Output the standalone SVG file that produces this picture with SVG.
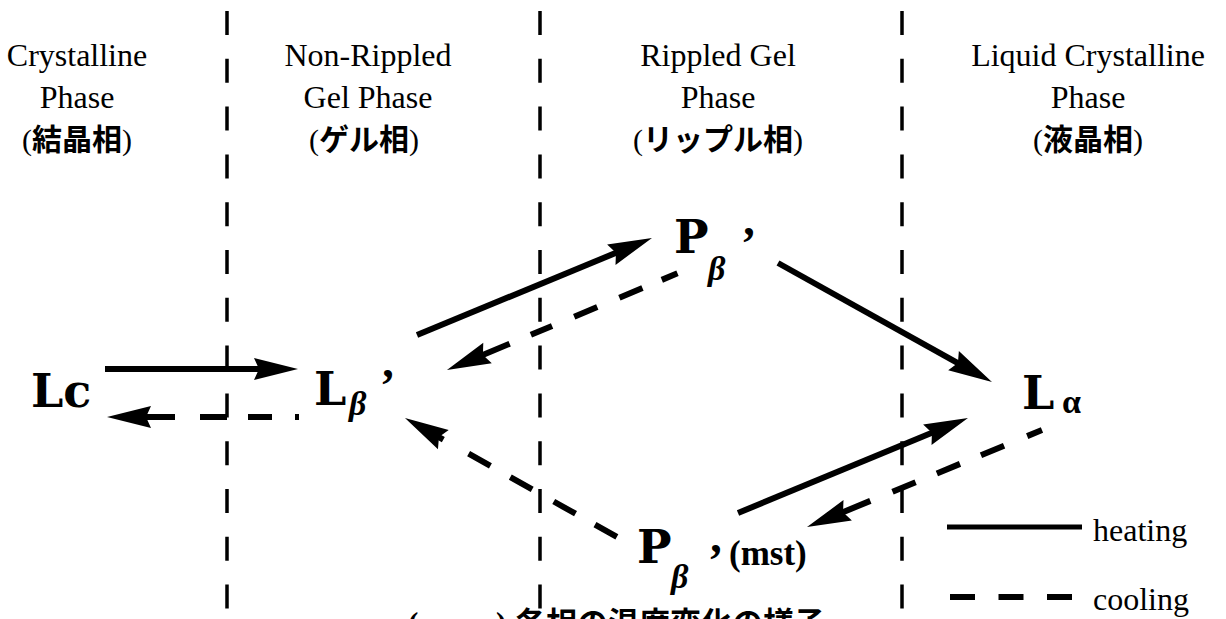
<svg xmlns="http://www.w3.org/2000/svg" width="1226" height="619" viewBox="0 0 1226 619">
<style>
.hdr{font-family:"Liberation Serif","Times New Roman",serif;font-size:32px;fill:#000;text-anchor:middle}
.jp{font-family:"Liberation Serif","Noto Sans CJK JP",sans-serif;font-size:30px;fill:#000;text-anchor:middle}
.kj{font-family:"Noto Sans CJK JP",sans-serif;font-weight:bold}
.big{font-family:"DejaVu Serif",serif;font-weight:bold;font-size:46px;fill:#000}
.sub{font-family:"Liberation Serif",serif;font-weight:bold;font-style:italic;font-size:34px;fill:#000}
.prime{font-family:"Liberation Serif",serif;font-weight:bold;font-size:46px;fill:#000}
.mst{font-family:"Liberation Serif",serif;font-weight:bold;font-size:35px;fill:#000}
.leg{font-family:"Liberation Serif",serif;font-size:32px;fill:#000}
.cap{font-family:"Liberation Serif","Noto Sans CJK JP",sans-serif;font-size:31px;font-weight:bold;fill:#000}
.sep{stroke:#000;stroke-width:3.5;stroke-dasharray:24 23.8;fill:none}
.heat{stroke:#000;stroke-width:6;fill:none;marker-end:url(#ah)}
.cool{stroke:#000;stroke-width:6;fill:none;marker-start:url(#ahs)}
</style>
<defs>
<marker id="ah" markerUnits="userSpaceOnUse" markerWidth="46" markerHeight="24" refX="24" refY="11" orient="auto" overflow="visible">
<path d="M0,0 L44,11 L0,22 L5,11 z" fill="#000"/>
</marker>
<marker id="ahs" markerUnits="userSpaceOnUse" markerWidth="46" markerHeight="24" refX="24" refY="11" orient="auto-start-reverse" overflow="visible">
<path d="M0,0 L44,11 L0,22 L5,11 z" fill="#000"/>
</marker>
</defs>
<rect width="1226" height="619" fill="#fff"/>

<g id="separators">
<line class="sep" x1="227" y1="11" x2="227" y2="619"/>
<line class="sep" x1="540" y1="11" x2="540" y2="619"/>
<line class="sep" x1="902" y1="11" x2="902" y2="619"/>
</g>

<g id="header-crystalline">
<text class="hdr" x="77" y="66">Crystalline</text>
<text class="hdr" x="77" y="108">Phase</text>
<text class="jp" x="77" y="150">(<tspan class="kj">結晶相</tspan>)</text>
</g>
<g id="header-gel">
<text class="hdr" x="368" y="66">Non-Rippled</text>
<text class="hdr" x="368" y="108">Gel Phase</text>
<text class="jp" x="364" y="150">(<tspan class="kj">ゲル相</tspan>)</text>
</g>
<g id="header-ripple">
<text class="hdr" x="718" y="66">Rippled Gel</text>
<text class="hdr" x="718" y="108">Phase</text>
<text class="jp" x="718" y="150">(<tspan class="kj">リップル相</tspan>)</text>
</g>
<g id="header-liquid">
<text class="hdr" x="1088" y="66">Liquid Crystalline</text>
<text class="hdr" x="1088" y="108">Phase</text>
<text class="jp" x="1088" y="150">(<tspan class="kj">液晶相</tspan>)</text>
</g>

<g id="node-Lc">
<text class="big" x="31" y="407">Lc</text>
</g>
<g id="node-Lbeta">
<text class="big" x="314" y="405">L</text>
<text class="sub" x="349" y="415">β</text>
<text class="prime" x="380" y="401">’</text>
</g>
<g id="node-Pbeta">
<text class="big" x="674" y="253">P</text>
<text class="sub" x="708" y="280">β</text>
<text class="prime" x="741" y="259">’</text>
</g>
<g id="node-Lalpha">
<text class="big" x="1022" y="409">L</text>
<text class="sub" x="1062" y="413" style="font-style:normal">α</text>
</g>
<g id="node-Pbeta-mst">
<text class="big" x="637" y="563">P</text>
<text class="sub" x="671" y="588">β</text>
<text class="prime" x="708" y="576">’</text>
<text class="mst" x="729" y="565">(mst)</text>
</g>

<g id="connectors">
<path class="heat" d="M105,369 L278,369"/>
<path class="cool" d="M127,417 L299,417" stroke-dasharray="48 25 27 21 24 23 4 20"/>
<path class="heat" d="M417,335 L633.5,245.6"/>
<path class="cool" d="M465.4,362.3 L677.5,273.3" stroke-dasharray="48 23 23 24 25 24 25 21 17 20"/>
<path class="heat" d="M778,263 L974.5,372.3"/>
<path class="cool" d="M825.5,519.4 L1042,430" stroke-dasharray="48.5 24 25 23 25 22.7 25 25 16 20"/>
<path class="heat" d="M738,513 L949.5,425.6"/>
<path class="cool" d="M422.4,427.8 L617,537" stroke-dasharray="24 29 25 22.8 25.1 24.7 25 22.3 25.1 20"/>
</g>

<g id="legend">
<line x1="947" y1="527" x2="1082" y2="527" stroke="#000" stroke-width="5"/>
<text class="leg" x="1093" y="541">heating</text>
<line x1="950" y1="597" x2="1072" y2="597" stroke="#000" stroke-width="6" stroke-dasharray="25 23.5"/>
<text class="leg" x="1093" y="610">cooling</text>
</g>

<g id="caption">
<text class="cap" y="634"><tspan x="408">(</tspan><tspan x="452">a</tspan><tspan x="496">)</tspan><tspan x="515">各相の温度変化の様子</tspan></text>
</g>
</svg>
